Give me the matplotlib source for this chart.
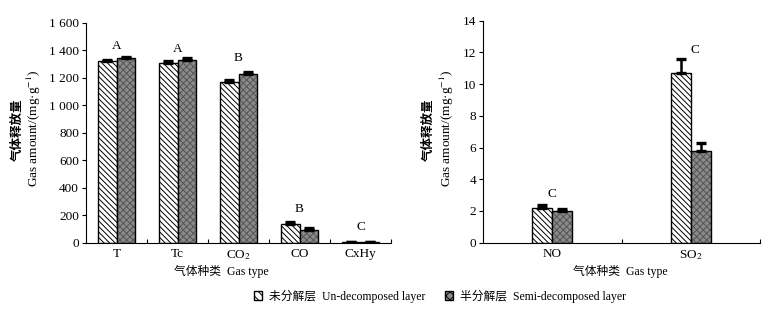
import matplotlib
matplotlib.use("Agg")
import matplotlib.pyplot as plt
import numpy as np
from matplotlib.patches import Patch
from matplotlib.ticker import FuncFormatter, FixedLocator

plt.rcParams['font.family'] = ['Liberation Serif', 'Noto Sans CJK SC']
plt.rcParams['mathtext.fontset'] = 'stix'
plt.rcParams['hatch.linewidth'] = 0.7

# ---- data ----
cats_left = ["T", "Tc", "CO$_2$", "CO", "CxHy"]
undec_left = [1320, 1310, 1170, 135, 5]
undec_left_err = [12, 10, 15, 12, 3]
semi_left = [1340, 1330, 1230, 95, 3]
semi_left_err = [10, 12, 12, 10, 2]
letters_left = ["A", "A", "B", "B", "C"]
letters_left_y = [1430, 1410, 1345, 245, 115]

cats_right = ["NO", "SO$_2$"]
undec_right = [2.2, 10.7]
undec_right_err = [0.2, 0.9]
semi_right = [2.0, 5.8]
semi_right_err = [0.1, 0.5]
letters_right = ["C", "C"]
letters_right_y = [3.1, 12.15]
letters_right_dx = [0.0, 0.03]

label_undec = "未分解层  Un-decomposed layer"
label_semi = "半分解层  Semi-decomposed layer"
ylabel_cn = "气体释放量"
ylabel_en = "Gas amount/(mg·g$^{-1}$)"
xlabel = "气体种类  Gas type"

FS = 9.5
FS2 = 8.5

W, H = 768, 309
fig = plt.figure(figsize=(W / 100, H / 100), dpi=100)

def fx(px):
    return px / W

def fy(py):
    return 1 - py / H

ax1 = fig.add_axes([fx(86), fy(242.7), fx(391 - 86), (242.7 - 22.7) / H])
ax2 = fig.add_axes([fx(483), fy(242.7), fx(760 - 483), (242.7 - 20.7) / H])

semi_face = '#8a8a8a'
semi_hatch_col = '#555555'

def draw(ax, cats, u, ue, s, se, width, letters, ly, ldx, capsize):
    x = np.arange(len(cats))
    ax.bar(x - width / 2, u, width, facecolor='white', edgecolor='black',
           hatch='\\\\\\\\\\\\', linewidth=1.0, zorder=2)
    ax.bar(x + width / 2, s, width, facecolor=semi_face, edgecolor=semi_hatch_col,
           hatch='xxxxx', linewidth=0, zorder=2)
    ax.bar(x + width / 2, s, width, facecolor='none', edgecolor='black',
           linewidth=1.0, zorder=3)
    ax.errorbar(x - width / 2, u, yerr=[np.zeros(len(u)), ue], fmt='none',
                ecolor='black', elinewidth=1.8, capsize=capsize, capthick=2.4, zorder=4)
    ax.errorbar(x + width / 2, s, yerr=[np.zeros(len(s)), se], fmt='none',
                ecolor='black', elinewidth=1.8, capsize=capsize, capthick=2.4, zorder=4)
    for xi, t, yy, dx in zip(x, letters, ly, ldx):
        ax.text(xi + dx, yy, t, ha='center', va='center', fontsize=FS)
    ax.set_xlim(-0.5, len(cats) - 0.5)
    ax.set_xticks(x)
    ax.set_xticklabels(cats, fontsize=FS)
    ax.xaxis.set_minor_locator(FixedLocator(np.arange(len(cats)) + 0.5))
    ax.tick_params(axis='x', which='major', length=0, pad=4)
    ax.tick_params(axis='x', which='minor', direction='in', length=3, width=0.8)
    ax.tick_params(axis='y', direction='out', length=3, width=0.8, labelsize=FS, pad=2)
    for sp in ['top', 'right']:
        ax.spines[sp].set_visible(False)
    for sp in ['left', 'bottom']:
        ax.spines[sp].set_linewidth(0.8)

draw(ax1, cats_left, undec_left, undec_left_err, semi_left, semi_left_err, 0.31,
     letters_left, letters_left_y, [0] * 5, 3.5)
ax1.set_ylim(0, 1600)
ax1.set_yticks(np.arange(0, 1601, 200))
ax1.yaxis.set_major_formatter(FuncFormatter(lambda v, p: f"{int(v):,}".replace(",", " ")))

draw(ax2, cats_right, undec_right, undec_right_err, semi_right, semi_right_err, 0.144,
     letters_right, letters_right_y, letters_right_dx, 3.5)
ax2.set_ylim(0, 14)
ax2.set_yticks(np.arange(0, 15, 2))

# y labels
for xc, xe in [(17, 34), (428, 447)]:
    fig.text(fx(xc), fy(130), ylabel_cn, rotation=90, ha='center', va='center',
             fontsize=9, fontweight='bold', family=['Noto Sans CJK SC'])
    fig.text(fx(xe), fy(128), ylabel_en, rotation=90, ha='center', va='center',
             fontsize=FS)

# x labels
fig.text(fx(221), fy(272), xlabel, ha='center', va='center', fontsize=FS2)
fig.text(fx(620), fy(272), xlabel, ha='center', va='center', fontsize=FS2)

# legend
h1 = Patch(facecolor='white', edgecolor='black', hatch='\\\\\\\\', linewidth=1.0)
h2 = Patch(facecolor=semi_face, edgecolor='black', hatch='xxxx', linewidth=1.0)
fig.legend([h1, h2], [label_undec, label_semi], loc='center', ncol=2,
           bbox_to_anchor=(fx(440), fy(296)), frameon=False, fontsize=FS2,
           handlelength=0.7, handleheight=0.9, handletextpad=0.6, columnspacing=1.6)

fig.savefig("out.png", dpi=100)
